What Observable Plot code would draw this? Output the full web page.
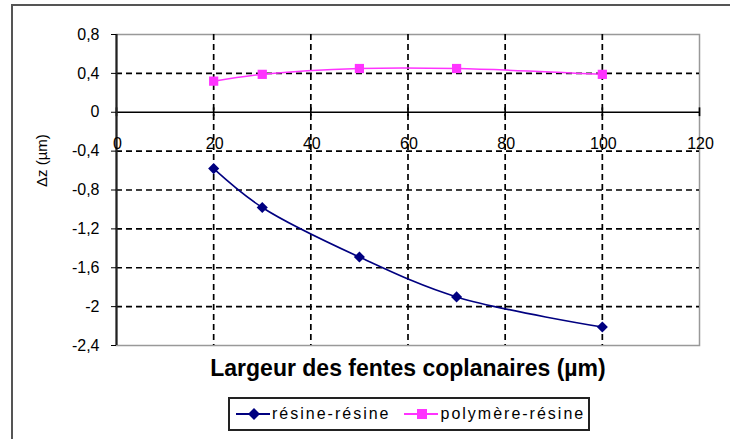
<!DOCTYPE html>
<html>
<head>
<meta charset="utf-8">
<script src="https://cdn.jsdelivr.net/npm/d3@7"></script>
<script src="https://cdn.jsdelivr.net/npm/@observablehq/plot@0.6"></script>
<style>
  body { margin: 0; background: #fff; font-family: "Liberation Sans", Arial, sans-serif; }
  #wrap { position: relative; width: 730px; height: 439px; overflow: hidden; }
  #border { position: absolute; left: 11px; top: 4px; width: 740px; height: 460px; border: 2px solid #555; }
  #chart { position: absolute; left: 0; top: 0; }
  #legend { position: absolute; left: 228px; top: 397px; width: 358px; height: 30px; border: 2px solid #222;
    font-size: 16px; letter-spacing: 2px; display: flex; align-items: center; background: #fff; white-space: nowrap; box-sizing: content-box; }
  #legend .item { display: inline-flex; align-items: center; }
  #legend svg { display: block; }
</style>
</head>
<body>
<div id="wrap">
  <div id="border"></div>
  <div id="chart"></div>
  <div id="legend"></div>
</div>
<script>
const widths = [20, 30, 50, 70, 100];
const resineResine = [-0.58, -0.98, -1.49, -1.90, -2.21];
const polymereResine = [0.32, 0.39, 0.45, 0.45, 0.39];
const seriesNames = ["résine-résine", "polymère-résine"];
const seriesColors = ["#000080", "#ff33ff"];
const xTicks = [0, 20, 40, 60, 80, 100, 120];
const yTicks = [0.8, 0.4, 0, -0.4, -0.8, -1.2, -1.6, -2, -2.4];
const xGrid = [20, 40, 60, 80, 100];
const yGrid = [0.4, -0.4, -0.8, -1.2, -1.6, -2];
const xLabel = "Largeur des fentes coplanaires (µm)";
const yLabelParts = ["Δz", " (µm)"];
const yLabel = yLabelParts.join("");

const fmt = d => String(d).replace(".", ",");
const s1 = widths.map((x, i) => ({x, y: resineResine[i]}));
const s2 = widths.map((x, i) => ({x, y: polymereResine[i]}));

const chart = Plot.plot({
  width: 730,
  height: 439,
  marginLeft: 116,
  marginRight: 31,
  marginTop: 34,
  marginBottom: 94,
  style: {fontFamily: "Liberation Sans, Arial, sans-serif", fontSize: "16px", background: "transparent", color: "#000"},
  x: {domain: [0, 120], axis: null},
  y: {domain: [-2.4, 0.8], axis: null},
  marks: [
    Plot.frame({stroke: "#999", strokeWidth: 1.5}),
    Plot.ruleX(xGrid, {stroke: "#000", strokeWidth: 1.7, strokeDasharray: "6,4"}),
    Plot.ruleY(yGrid, {stroke: "#000", strokeWidth: 1.7, strokeDasharray: "6,4"}),
    Plot.ruleY([0], {stroke: "#000", strokeWidth: 1.7}),
    Plot.ruleX(xTicks, {x: d => d, y1: -0.045, y2: 0.045, stroke: "#000", strokeWidth: 1.7}),
    Plot.ruleX([0], {stroke: "#222", strokeWidth: 2.2}),
    Plot.axisY({ticks: yTicks, tickSize: 5, tickPadding: 12, tickFormat: fmt, fontSize: 16, label: null, stroke: "#000", ariaLabel: "ytl"}),
    Plot.text(xTicks, {x: d => d, y: 0, dy: 32, dx: 1, text: d => fmt(d), fontSize: 16, ariaLabel: "xtl"}),
    Plot.line(s1, {x: "x", y: "y", stroke: seriesColors[0], strokeWidth: 1.6, curve: "catmull-rom"}),
    Plot.dot(s1, {x: "x", y: "y", symbol: "diamond2", r: 5, fill: seriesColors[0], stroke: "none"}),
    Plot.line(s2, {x: "x", y: "y", stroke: seriesColors[1], strokeWidth: 1.5, curve: "catmull-rom"}),
    Plot.dot(s2, {x: "x", y: "y", symbol: "square", r: 5.2, fill: seriesColors[1], stroke: "none"}),
    Plot.text([yLabel], {frameAnchor: "left", dx: -74, dy: -3, rotate: -90, text: d => d, fontSize: 15, ariaLabel: "ylab"}),
    Plot.text([xLabel], {frameAnchor: "bottom", dy: 30, text: d => d, fontSize: 23, fontWeight: "bold"})
  ]
});
d3.select(chart).selectAll('g[aria-label="ytl"] text').style("letter-spacing", "2.5px");
d3.select(chart).selectAll('g[aria-label="xtl"] text').style("letter-spacing", "2.5px");
d3.select(chart).selectAll('g[aria-label="ylab"] text').style("letter-spacing", "2.5px").each(function() {
  const t = d3.select(this);
  t.text(null);
  t.append("tspan").attr("font-weight", "bold").text(yLabelParts[0]);
  t.append("tspan").text(yLabelParts[1]);
});
document.getElementById("chart").appendChild(chart);

const legend = document.getElementById("legend");
const symbols = ["diamond", "square"];
seriesNames.forEach((name, i) => {
  const span = document.createElement("span");
  span.className = "item";
  span.style.marginLeft = i === 0 ? "6px" : "14px";
  const sw = d3.create("svg").attr("width", 34).attr("height", 14);
  sw.append("line").attr("x1", 0).attr("x2", 34).attr("y1", 7).attr("y2", 7)
    .attr("stroke", seriesColors[i]).attr("stroke-width", 1.8);
  if (symbols[i] === "diamond") {
    sw.append("path").attr("d", "M18,1L24,7L18,13L12,7Z").attr("fill", seriesColors[i]);
  } else {
    sw.append("rect").attr("x", 13).attr("y", 2).attr("width", 10).attr("height", 10).attr("fill", seriesColors[i]);
  }
  span.appendChild(sw.node());
  const t = document.createElement("span");
  t.style.marginLeft = "2px";
  t.textContent = name;
  span.appendChild(t);
  legend.appendChild(span);
});
</script>
</body>
</html>
